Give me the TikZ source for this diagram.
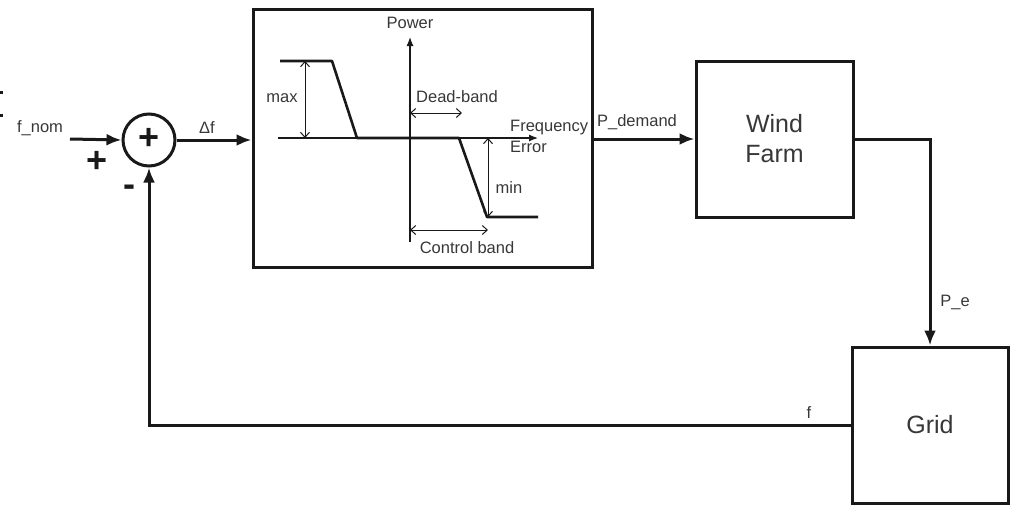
\documentclass[tikz,border=0pt]{standalone}
\usepackage{fontspec}
\setmainfont{Liberation Sans}
\usetikzlibrary{arrows.meta}
\definecolor{txt}{RGB}{55,55,55}
\definecolor{ln}{RGB}{25,25,25}
\tikzset{
  blk/.style={draw=ln, line width=3pt, rectangle, inner sep=0pt},
  conn/.style={draw=ln, line width=3pt, -{Latex[length=15pt,width=12pt]}},
  plain/.style={draw=ln, line width=3pt},
  small/.style={text=txt, inner sep=0pt, font=\fontsize{16.5}{18}\selectfont},
  big/.style={text=txt, align=center, font=\fontsize{25}{30}\selectfont},
  sign/.style={text=ln, inner sep=0pt, font=\fontsize{36}{36}\selectfont\bfseries},
  axis/.style={draw=ln, line width=1.2pt, -{Latex[length=9pt,width=7pt]}},
  dim/.style={draw=ln, line width=1pt, {Straight Barb[length=5pt,width=9pt]}-{Straight Barb[length=5pt,width=9pt]}},
  curve/.style={draw=ln, line width=2.6pt, line join=round}
}
\begin{document}
\begin{tikzpicture}[x=1pt,y=-1pt]
\useasboundingbox (0,0) rectangle (1010,504);
% crop marks at left edge
\fill[ln] (0,91) rectangle (3,94);
\fill[ln] (0,114) rectangle (3,117);
% blocks
\node[draw=ln, line width=3pt, circle, minimum size=52pt, inner sep=0pt] (sum) at (149,140) {};
\node[sign] (sumplus) at (149,139) {+};
\node[blk, minimum width=339pt, minimum height=258pt] (ctrl) at (422.5,138) {};
\node[blk, minimum width=157pt, minimum height=156pt, big] (wf) at (774.5,139) {Wind\\Farm};
\node[blk, minimum width=156pt, minimum height=156pt, big] (grid) at (930,425) {Grid};
% signs
\node[sign] (plus) at (97,162) {+};
\node[sign] (minus) at (129,191) {-};
% connector labels
\node[small] (fnom) at (40,128) {f\_nom};
\node[small] (df) at (207,128) {Δf};
\node[small] (pd) at (637,122) {P\_demand};
\node[small] (pe) at (955,302) {P\_e};
\node[small] (flab) at (809,413) {f};
% connectors
\coordinate (fin) at (70,139);
\draw[conn] (fin) -- (sum.west);
\draw[conn] (sum.east) -- (sum.east -| ctrl.west);
\draw[conn] (ctrl.east |- wf.west) -- (wf.west);
\draw[conn] (wf.east) -| (grid.north);
\draw[conn] (grid.west) -| (sum.south);
% characteristic inside controller
\draw[axis] (278,138) -- (538,138);
\draw[axis] (410,242) -- (410,37);
\draw[curve] (280,61) -- (332,61) -- (357,138) -- (459,138) -- (487,217) -- (538,217);
\draw[dim] (305,61) -- (305,138);
\draw[dim] (410,113) -- (462,113);
\draw[dim] (488,138) -- (488,217);
\draw[dim] (410,230) -- (488,230);
\node[small] (power) at (410,23) {Power};
\node[small] (max) at (282,98) {max};
\node[small] (db) at (457,97) {Dead-band};
\node[small, anchor=west] (freq) at (510,128) {Frequency};
\node[small, anchor=west] (err) at (510,147) {Error};
\node[small] (min) at (509,188) {min};
\node[small] (cb) at (467,248) {Control band};
\end{tikzpicture}
\end{document}
